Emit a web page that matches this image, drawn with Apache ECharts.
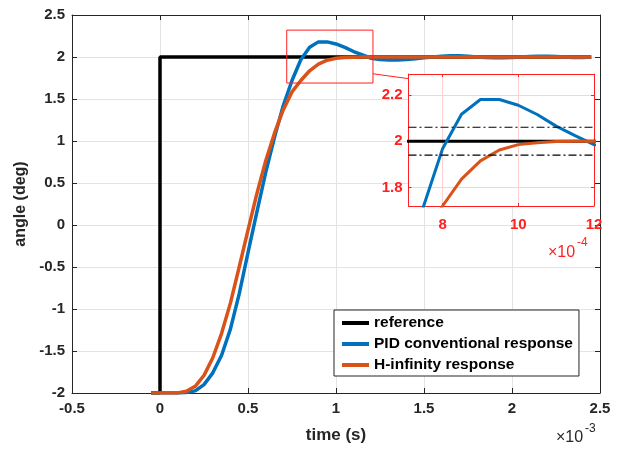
<!DOCTYPE html>
<html><head><meta charset="utf-8">
<script src="https://cdn.jsdelivr.net/npm/echarts@6/dist/echarts.min.js"></script>
<style>html,body{margin:0;padding:0;background:#fff}#c{width:621px;height:450px}</style>
</head><body><div id="c"></div>
<script>
// time in ms (axis shows x 1e-3 s)
const time = [-0.05, 0, 0.05, 0.1, 0.15, 0.2, 0.25, 0.3, 0.35, 0.4,
  0.45, 0.5, 0.55, 0.6, 0.65, 0.7, 0.75, 0.8, 0.85, 0.9,
  0.95, 1.0, 1.05, 1.1, 1.15, 1.2, 1.25, 1.3, 1.35, 1.4,
  1.45, 1.5, 1.55, 1.6, 1.65, 1.7, 1.75, 1.8, 1.85, 1.9,
  1.95, 2.0, 2.05, 2.1, 2.15, 2.2, 2.25, 2.3, 2.35, 2.4, 2.45];
const pidResponse = [-2, -2, -2, -2, -1.995, -1.975, -1.9, -1.76, -1.55, -1.24,
  -0.82, -0.33, 0.15, 0.62, 1.04, 1.42, 1.72, 1.967, 2.116, 2.18,
  2.18, 2.155, 2.115, 2.065, 2.024, 1.985, 1.97, 1.965, 1.965, 1.97,
  1.98, 1.99, 2.0, 2.01, 2.015, 2.015, 2.01, 2.0, 1.995, 1.99,
  1.99, 1.995, 2.0, 2.005, 2.01, 2.01, 2.005, 2.0, 1.995, 1.995, 2.0];
const hinfResponse = [-2, -2, -2, -2, -1.98, -1.92, -1.79, -1.58, -1.29, -0.93,
  -0.5, -0.06, 0.37, 0.76, 1.09, 1.37, 1.585, 1.72, 1.836, 1.915,
  1.962, 1.985, 1.993, 1.998, 2.0, 2.0, 2.0, 2.0, 2.0, 2.0,
  2.0, 2.0, 2.0, 2.0, 2.0, 2.0, 2.0, 2.0, 2.0, 2.0,
  2.0, 2.0, 2.0, 2.0, 2.0, 2.0, 2.0, 2.0, 2.0, 2.0, 2.0];
const refTime = [-0.05, 0, 0, 2.45];
const refValue = [-2, -2, 2, 2];
const tolUpper = 2.06;
const tolLower = 1.94;
const insetXTicks = [0.8, 1.0, 1.2];
const insetYTicks = [1.8, 2.0, 2.2];
const insetXRange = [0.71, 1.2];
const insetYRange = [1.72, 2.29];
const zoomBoxX = [0.72, 1.21];
const zoomBoxY = [1.69, 2.32];
const names = ['reference', 'PID conventional response', 'H-infinity response'];

const FONT = 'Liberation Sans, Arial, sans-serif';
const TXT = '#262626';
const RED = '#ff2020';
const zip = (a, b) => a.map((v, i) => [v, b[i]]);

const chart = echarts.init(document.getElementById('c'), null, {renderer: 'canvas'});

const mainAxisCommon = {
  axisLine: {show: true, onZero: false, lineStyle: {color: TXT, width: 1}},
  axisTick: {show: true, inside: true, length: 5, lineStyle: {color: TXT}},
  splitLine: {show: false}
};
const insetAxisCommon = {
  axisLine: {show: true, onZero: false, lineStyle: {color: RED, width: 1}},
  axisTick: {show: true, inside: true, length: 3, lineStyle: {color: RED}},
  z: 6
};

const option = {
  animation: false,
  backgroundColor: '#fff',
  textStyle: {fontFamily: FONT},
  grid: [
    {left: 72, top: 15, width: 528, height: 378, outerBoundsMode: 'none', containLabel: false},
    {left: 408.5, top: 74, width: 185.5, height: 132, outerBoundsMode: 'none', containLabel: false,
      show: true, backgroundColor: '#fff', borderWidth: 0, z: 5}
  ],
  legend: {
    data: names,
    orient: 'vertical',
    left: 334, top: 310,
    itemWidth: 27, itemHeight: 4, itemGap: 5,
    icon: 'rect',
    padding: [5, 6, 3, 8],
    backgroundColor: '#fff',
    borderColor: TXT, borderWidth: 1,
    textStyle: {fontFamily: FONT, fontWeight: 'bold', fontSize: 15.5, color: '#000'},
    z: 10
  },
  xAxis: [
    Object.assign({}, mainAxisCommon, {
      type: 'value', gridIndex: 0, position: 'bottom', min: -0.5, max: 2.5, interval: 0.5,
      name: 'time (s)', nameLocation: 'middle', nameGap: 34,
      nameTextStyle: {fontFamily: FONT, fontWeight: 'bold', fontSize: 17, color: TXT},
      axisLabel: {fontFamily: FONT, fontWeight: 'bold', fontSize: 15, color: TXT, margin: 8},
      splitLine: {show: true, lineStyle: {color: '#e3e3e3', width: 1}}
    }),
    Object.assign({}, mainAxisCommon, {
      type: 'value', gridIndex: 0, position: 'top', min: -0.5, max: 2.5, interval: 0.5,
      axisLabel: {show: false}
    }),
    Object.assign({}, insetAxisCommon, {
      type: 'value', gridIndex: 1, position: 'bottom', min: insetXRange[0], max: insetXRange[1],
      axisTick: Object.assign({}, insetAxisCommon.axisTick, {customValues: insetXTicks}),
      axisLabel: {customValues: insetXTicks, fontFamily: FONT, fontWeight: 'bold', fontSize: 15, color: RED, margin: 11,
        formatter: v => String(Math.round(v * 10))},
      splitLine: {show: true, lineStyle: {color: '#ffd0d0', width: 1}}
    }),
    Object.assign({}, insetAxisCommon, {
      type: 'value', gridIndex: 1, position: 'top', min: insetXRange[0], max: insetXRange[1],
      axisTick: Object.assign({}, insetAxisCommon.axisTick, {customValues: insetXTicks}),
      axisLabel: {show: false}, splitLine: {show: false}
    })
  ],
  yAxis: [
    Object.assign({}, mainAxisCommon, {
      type: 'value', gridIndex: 0, position: 'left', min: -2, max: 2.5, interval: 0.5,
      name: 'angle (deg)', nameLocation: 'middle', nameGap: 42,
      nameTextStyle: {fontFamily: FONT, fontWeight: 'bold', fontSize: 16, color: TXT},
      axisLabel: {fontFamily: FONT, fontWeight: 'bold', fontSize: 15, color: TXT, margin: 7},
      splitLine: {show: true, lineStyle: {color: '#e3e3e3', width: 1}}
    }),
    Object.assign({}, mainAxisCommon, {
      type: 'value', gridIndex: 0, position: 'right', min: -2, max: 2.5, interval: 0.5,
      axisLabel: {show: false}
    }),
    Object.assign({}, insetAxisCommon, {
      type: 'value', gridIndex: 1, position: 'left', min: insetYRange[0], max: insetYRange[1],
      axisTick: Object.assign({}, insetAxisCommon.axisTick, {customValues: insetYTicks}),
      axisLabel: {customValues: insetYTicks, fontFamily: FONT, fontWeight: 'bold', fontSize: 15, color: RED, margin: 6,
        formatter: v => (Math.abs(v - 2) < 1e-9 ? '2' : v.toFixed(1))},
      splitLine: {show: true, lineStyle: {color: '#ffd0d0', width: 1}}
    }),
    Object.assign({}, insetAxisCommon, {
      type: 'value', gridIndex: 1, position: 'right', min: insetYRange[0], max: insetYRange[1],
      axisTick: Object.assign({}, insetAxisCommon.axisTick, {customValues: insetYTicks}),
      axisLabel: {show: false}, splitLine: {show: false}
    })
  ],
  series: [
    {name: names[0], type: 'line', xAxisIndex: 0, yAxisIndex: 0, data: zip(refTime, refValue),
      showSymbol: false, symbol: 'none', color: '#000', lineStyle: {color: '#000', width: 3.5}, z: 2},
    {name: names[1], type: 'line', xAxisIndex: 0, yAxisIndex: 0, data: zip(time, pidResponse),
      showSymbol: false, symbol: 'none', color: '#0072BD', lineStyle: {color: '#0072BD', width: 3.5}, z: 2},
    {name: names[2], type: 'line', xAxisIndex: 0, yAxisIndex: 0, data: zip(time, hinfResponse),
      showSymbol: false, symbol: 'none', color: '#D95319', lineStyle: {color: '#D95319', width: 3.5}, z: 2},
    // inset
    {name: names[0], type: 'line', xAxisIndex: 2, yAxisIndex: 2, data: zip(refTime, refValue),
      symbol: 'none', color: '#000', lineStyle: {color: '#000', width: 3}, z: 7, clip: true},
    {name: names[1], type: 'line', xAxisIndex: 2, yAxisIndex: 2, data: zip(time, pidResponse),
      symbol: 'none', color: '#0072BD', lineStyle: {color: '#0072BD', width: 3}, z: 7, clip: true},
    {name: names[2], type: 'line', xAxisIndex: 2, yAxisIndex: 2, data: zip(time, hinfResponse),
      symbol: 'none', color: '#D95319', lineStyle: {color: '#D95319', width: 3}, z: 7, clip: true},
    {type: 'line', xAxisIndex: 2, yAxisIndex: 2, data: [[insetXRange[0], tolUpper], [insetXRange[1], tolUpper]],
      symbol: 'none', lineStyle: {color: '#000', width: 1.2, type: [8, 3, 2, 3]}, z: 8, silent: true},
    {type: 'line', xAxisIndex: 2, yAxisIndex: 2, data: [[insetXRange[0], tolLower], [insetXRange[1], tolLower]],
      symbol: 'none', lineStyle: {color: '#000', width: 1.2, type: [8, 3, 2, 3]}, z: 8, silent: true}
  ]
};
chart.setOption(option);

// annotation: zoom box, connector and axis exponents
const p1 = chart.convertToPixel({gridIndex: 0}, [zoomBoxX[0], zoomBoxY[1]]);
const p2 = chart.convertToPixel({gridIndex: 0}, [zoomBoxX[1], zoomBoxY[0]]);
const c1 = chart.convertToPixel({gridIndex: 0}, [zoomBoxX[1], 1.8]);
const c2 = chart.convertToPixel({gridIndex: 1}, [insetXRange[0], 2.27]);
const br = chart.convertToPixel({gridIndex: 0}, [2.5, -2]);
const ibr = chart.convertToPixel({gridIndex: 1}, [insetXRange[1], insetYRange[0]]);
chart.setOption({
  graphic: [
    {type: 'rect', shape: {x: p1[0], y: p1[1], width: p2[0] - p1[0], height: p2[1] - p1[1]},
      style: {fill: 'none', stroke: RED, lineWidth: 1}, z: 9, silent: true},
    {type: 'line', shape: {x1: c1[0], y1: c1[1], x2: c2[0], y2: c2[1]},
      style: {stroke: RED, lineWidth: 1}, z: 9, silent: true},
    {type: 'text', x: br[0] - 44, y: br[1] + 45, style: {text: '×10', fill: TXT, font: '16px ' + FONT, textVerticalAlign: 'middle'}, z: 9},
    {type: 'text', x: br[0] - 15, y: br[1] + 36, style: {text: '-3', fill: TXT, font: '12px ' + FONT, textVerticalAlign: 'middle'}, z: 9},
    {type: 'text', x: ibr[0] - 46, y: ibr[1] + 47, style: {text: '×10', fill: RED, font: '16px ' + FONT, textVerticalAlign: 'middle'}, z: 9},
    {type: 'text', x: ibr[0] - 17, y: ibr[1] + 37, style: {text: '-4', fill: RED, font: '12px ' + FONT, textVerticalAlign: 'middle'}, z: 9}
  ]
});
</script></body></html>
